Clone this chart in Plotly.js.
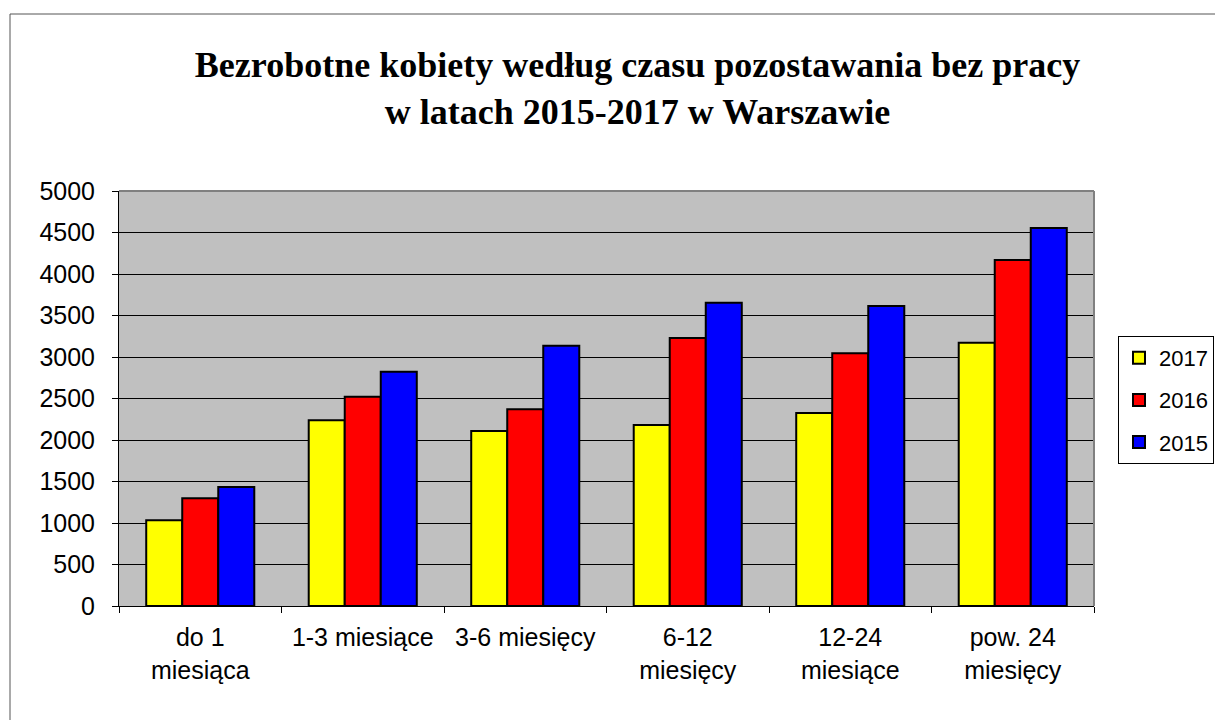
<!DOCTYPE html>
<html>
<head>
<meta charset="utf-8">
<script src="https://cdn.plot.ly/plotly-3.0.1.min.js"></script>
<style>html,body{margin:0;padding:0;background:#fff;}#chart{width:1215px;height:720px;}</style>
</head>
<body>
<div id="chart"></div>
<script>
const categories = ["do 1<br>miesiąca", "1-3 miesiące", "3-6 miesięcy", "6-12<br>miesięcy", "12-24<br>miesiące", "pow. 24<br>miesięcy"];
const seriesNames = ["2017", "2016", "2015"];
const values2017 = [1032, 2237, 2108, 2181, 2325, 3173];
const values2016 = [1297, 2522, 2369, 3229, 3044, 4169];
const values2015 = [1434, 2823, 3137, 3655, 3614, 4554];
const colors = ["#FFFF00", "#FF0000", "#0000FF"];
const allValues = [values2017, values2016, values2015];

const traces = allValues.map((v, i) => ({
  type: "bar",
  name: seriesNames[i],
  x: categories,
  y: v,
  legendgroup: "g" + i,
  marker: {color: colors[i], line: {color: "#000", width: 2}}
}));

const L = 119, R = 1094, T = 191, B = 606;
const PW = R - L, PH = B - T;

const layout = {
  width: 1215, height: 720,
  margin: {l: L, r: 1215 - R, t: T, b: 720 - B, autoexpand: false},
  paper_bgcolor: "#fff",
  plot_bgcolor: "#C0C0C0",
  font: {family: "Liberation Sans, Arial, sans-serif", size: 25, color: "#000"},
  title: {
    text: "Bezrobotne kobiety według czasu pozostawania bez pracy<br>w latach 2015-2017 w Warszawie",
    font: {family: "Liberation Serif, Times New Roman, serif", size: 36, color: "#000", weight: "bold"},
    x: 0.5247, xanchor: "center", y: 0.893, yanchor: "middle"
  },
  bargap: 0.335, bargroupgap: 0,
  showlegend: true,
  legend: {
    x: (1118 - L) / PW, xanchor: "left", y: (B - 336) / PH, yanchor: "top",
    bgcolor: "#fff", bordercolor: "#000", borderwidth: 1,
    font: {size: 22, family: "Liberation Sans, Arial, sans-serif"},
    traceorder: "grouped", tracegroupgap: 10.5,
    itemwidth: 30
  },
  xaxis: {
    type: "category",
    tickson: "boundaries",
    ticks: "outside", ticklen: 6, tickcolor: "#000",
    showline: true, linecolor: "#000", linewidth: 1,
    showgrid: false,
    ticklabelstandoff: 9,
    tickfont: {size: 25}
  },
  yaxis: {
    range: [0, 5000], dtick: 500,
    ticks: "outside", ticklen: 6, tickcolor: "#000",
    showline: true, linecolor: "#000", linewidth: 1,
    gridcolor: "#000", gridwidth: 1,
    zeroline: false,
    ticklabelstandoff: 12,
    tickfont: {size: 25}
  },
  shapes: [
    {type: "line", xref: "paper", yref: "paper", x0: 0, x1: 1, y0: 1, y1: 1, line: {color: "#808080", width: 2}},
    {type: "line", xref: "paper", yref: "paper", x0: 1, x1: 1, y0: 0, y1: 1, line: {color: "#808080", width: 2}},
    {type: "line", xref: "paper", yref: "paper", x0: (10 - L) / PW, x1: 1.2, y0: (B - 14) / PH, y1: (B - 14) / PH, line: {color: "#555", width: 1}},
    {type: "line", xref: "paper", yref: "paper", x0: (10 - L) / PW, x1: (10 - L) / PW, y0: (B - 14) / PH, y1: -0.5, line: {color: "#555", width: 1}}
  ]
};

Plotly.newPlot("chart", traces, layout, {displayModeBar: false, staticPlot: true});
</script>
</body>
</html>
